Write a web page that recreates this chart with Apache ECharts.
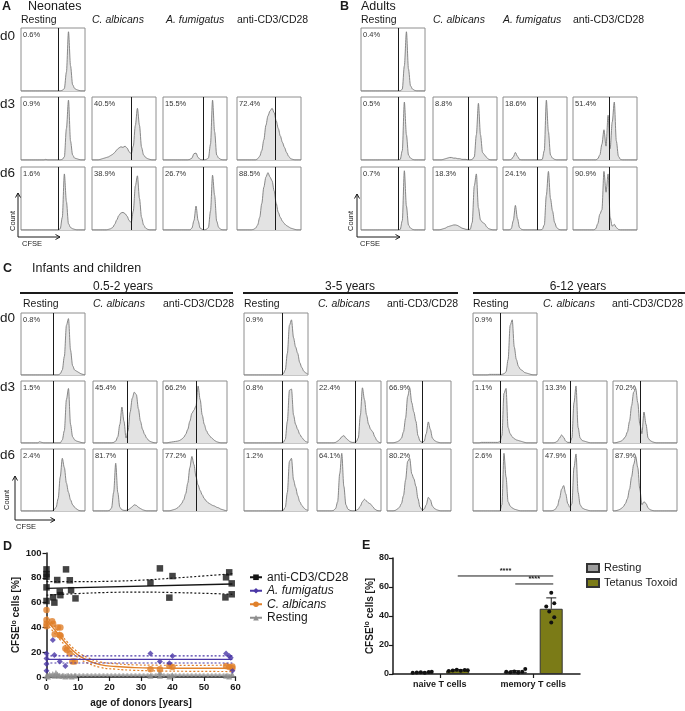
<!DOCTYPE html>
<html>
<head>
<meta charset="utf-8">
<script src="https://cdn.jsdelivr.net/npm/echarts@6/dist/echarts.min.js"></script>
<style>
html, body { margin: 0; padding: 0; background: #fff; }
#fig { width: 685px; height: 711px; }
</style>
</head>
<body>
<div id="fig"></div>
<script>
// ---- histogram data: 32 CFSE bins per sample, height in % of box ----
const N = 32;

// A: neonates (Resting, C. albicans, A. fumigatus, anti-CD3/CD28)
const neoD0 = [
  [0,0,0,0,0,0,0,0,0,0, 0,0,0,0,0,0,0,0,0,0, 1,4,30,94,40,10,4,2,1,0, 0,0]
];
const neoD3 = [
  [0,0,0,0,0,0,0,0,0,0, 0,0,1,0,0,0,0,0,0,0, 1,5,50,95,30,8,3,2,1,0, 0,0],
  [0,0,0,0,1,2,3,4,5,7, 9,12,16,19,21,20,22,19,13,10, 22,55,82,55,20,8,4,2,1,0, 0,0],
  [0,0,0,0,0,0,0,0,0,0, 0,0,0,1,3,10,11,4,1,0, 0,1,3,25,95,45,8,3,1,0, 0,0],
  [0,0,0,0,0,0,0,0,0,0, 2,6,15,32,55,70,78,82,75,62, 50,38,28,20,12,6,2,1,0,0, 0,0]
];
const neoD6 = [
  [0,0,0,0,0,0,0,0,0,0, 0,0,0,0,0,0,0,0,0,2, 20,89,45,10,4,2,1,0,0,0, 0,0],
  [0,0,0,0,0,0,0,0,1,2, 4,9,16,23,27,28,26,22,15,12, 30,70,86,50,20,8,3,1,0,0, 0,0],
  [0,0,0,0,0,0,0,0,0,0, 0,0,0,0,3,15,38,15,3,1, 0,1,4,30,87,55,14,4,1,0, 0,0],
  [0,0,0,0,0,0,0,0,1,3, 8,20,42,68,84,91,84,78,62,42, 28,20,14,10,7,5,3,2,1,0, 0,0]
];
const neoPct = [['0.6%'], ['0.9%','40.5%','15.5%','72.4%'], ['1.6%','38.9%','26.7%','88.5%']];
const neoGate = [0.58, 0.62, 0.63, 0.60];

// B: adults
const adD0 = [
  [0,0,0,0,0,0,0,0,0,0, 0,0,0,0,0,0,0,0,0,0, 3,40,94,35,8,3,1,0,0,0, 0,0]
];
const adD3 = [
  [0,0,0,0,0,0,0,0,0,0, 0,0,0,0,0,0,0,0,0,1, 15,92,40,8,3,1,0,0,0,0, 0,0],
  [0,0,0,0,0,1,2,3,4,4, 3,3,2,2,1,1,1,0,0,1, 5,40,90,40,12,8,4,1,0,0, 0,0],
  [0,0,0,0,1,5,12,6,1,0, 0,0,0,0,0,0,0,0,0,1, 15,95,45,8,3,1,0,0,0,0, 0,0],
  [0,0,0,0,0,0,0,0,0,0, 0,0,2,8,25,48,22,71,18,60, 92,30,6,1,0,0,0,0,0,0, 0,0]
];
const adD6 = [
  [0,0,0,0,0,0,0,0,0,0, 0,0,0,0,0,0,0,0,0,1, 15,94,38,8,3,1,0,0,0,0, 0,0],
  [0,0,0,0,1,2,3,5,6,7, 8,8,7,5,3,2,1,1,1,12, 70,89,35,16,12,10,5,2,1,0, 0,0],
  [0,0,0,0,2,15,39,18,4,1, 0,0,0,0,0,0,0,0,0,1, 8,55,93,50,30,12,4,1,0,0, 0,0],
  [0,0,0,0,0,0,0,0,0,0, 0,2,10,25,32,93,60,89,20,6, 9,4,1,0,0,0,0,0,0,0, 0,0]
];
const adPct = [['0.4%'], ['0.5%','8.8%','18.6%','51.4%'], ['0.7%','18.3%','24.1%','90.9%']];
const adGate = [0.58, 0.55, 0.54, 0.57];

// C: infants and children (Resting, C. albicans, anti-CD3/CD28)
const c1D0 = [
  [0,0,0,0,0,0,0,0,0,0, 0,0,0,0,0,0,0,0,0,2, 8,30,80,91,40,15,8,6,4,2, 1,0]
];
const c1D3 = [
  [0,0,0,0,0,0,0,0,0,2, 1,0,0,0,0,0,0,0,0,0, 5,20,70,88,30,10,5,3,2,1, 0,0],
  [0,0,0,0,0,0,0,0,0,0, 1,3,10,30,58,35,8,20,50,72, 82,78,55,35,22,14,8,4,2,1, 0,0],
  [0,0,0,1,1.5,2,2.5,3,4,6, 9,14,22,35,48,53,60,92,70,45, 30,20,14,10,7,4,2,1,0,0, 0,0]
];
const c1D6 = [
  [0,0,0,0,0,0,0,0,0,0, 0,0,0,0,0,0,2,6,20,55, 85,70,45,30,18,10,6,3,1,0, 0,0],
  [0,0,0,0,0,0,0,0,1,5, 30,77,30,6,2,1,1,2,4,7, 10,9,6,4,2,1,0,0,0,0, 0,0],
  [0,0,0,0,1,2,3,5,8,12, 18,28,45,70,88,75,55,42,33,26, 20,16,13,11,9,8,6,5,3,2, 1,0]
];
const c1Pct = [['0.8%'], ['1.5%','45.4%','66.2%'], ['2.4%','81.7%','77.2%']];
const c1Gate = [0.50, 0.53, 0.52];

const c2D0 = [
  [0,0,0,0,0,0,0,0,0,0, 0,0,0,0,0,0,0,0,0,2, 8,35,80,89,60,45,35,20,12,6, 3,1]
];
const c2D3 = [
  [0,0,0,0,0,0,0,0,0,0, 0,0,0,0,0,0,0,0,0,1, 6,35,85,87,45,30,22,14,9,5, 2,1],
  [0,0,0,0,0,0,0,0,0,1, 3,6,10,12,8,5,2,1,1,2, 8,45,89,70,45,30,22,18,10,4, 1,0],
  [0,0,0,0,1,2,4,8,18,40, 75,89,65,50,35,12,3,1,3,15, 34,22,8,4,2,1,0,0,0,0, 0,0]
];
const c2D6 = [
  [0,0,0,0,0,0,0,0,0,0, 0,0,0,0,0,0,0,0,0,1, 6,30,80,85,50,38,25,15,9,5, 2,1],
  [0,0,0,0,0,0,0,0,1,4, 15,60,93,40,10,3,1,0,0,1, 3,8,15,19,16,13,11,7,3,1, 0,0],
  [0,0,0,0,1,3,6,12,25,50, 80,85,60,52,40,20,6,2,3,10, 22,18,8,4,2,1,0,0,0,0, 0,0]
];
const c2Pct = [['0.9%'], ['0.8%','22.4%','66.9%'], ['1.2%','64.1%','80.2%']];
const c2Gate = [0.59, 0.59, 0.55];

const c3D0 = [
  [0,0,0,0,0,0,0,0,1,1, 1,1,1,1,1,2,5,25,80,89, 45,25,14,9,7,4,3,2,1,0, 0,0]
];
const c3D3 = [
  [0,0,0,0,1,1,1,1,1,1, 1,1,1,2,12,80,88,25,15,10, 7,5,4,3,2,1,0,0,0,0, 0,0],
  [0,0,0,0,0,0,1,3,8,13, 9,3,1,1,8,65,92,25,8,4, 3,2,1,0,0,0,0,0,0,0, 0,0],
  [0,0,1,2,3,6,10,18,35,60, 82,88,65,30,15,50,30,8,4,2, 1,0,0,0,0,0,0,0,0,0, 0,0]
];
const c3D6 = [
  [0,0,0,0,0,0,0,0,0,0, 0,0,0,0,10,93,55,15,8,5, 3,2,1,0,0,0,0,0,0,0, 0,0],
  [0,0,0,0,0,1,3,8,20,35, 41,28,12,6,12,70,92,30,10,5, 3,2,1,0,0,0,0,0,0,0, 0,0],
  [0,0,1,2,4,7,12,20,35,55, 75,88,70,35,10,15,12,5,2,1, 0,0,0,0,0,0,0,0,0,0, 0,0]
];
const c3Pct = [['0.9%'], ['1.1%','13.3%','70.2%'], ['2.6%','47.9%','87.9%']];
const c3Gate = [0.43, 0.43, 0.43];

// ---- D: CFSElo cells vs. age ----
const cd3Pts = [[0,86.8],[0,83],[0,80.9],[0,72.3],[0,61.3],[2.1,64.3],[2.5,60],[3.4,78.2],[4.2,68.8],[4.4,66],[6.2,86.8],[7.4,78],[7.8,70],[9.2,63.4],[33,76],[36,87.6],[39,64],[40,81.4],[56.8,64.2],[57,80.4],[58,84.4],[58.8,75.5],[58.8,66.7]];
const fumPts = [[0,19],[0,15],[0,10.5],[0,5],[2,29.8],[2.5,17.7],[4.2,12.4],[6,8.9],[33,19],[36,12.4],[39,11],[40,17],[57,19],[58,17],[58.5,15.5],[59,5]];
const albPts = [[0,54],[0,46],[0,43],[0,41],[1.8,45],[2.1,43],[2.6,34.4],[3.6,40],[4.4,40],[4.2,33.9],[4.5,33],[6,23],[6.5,21.8],[7.4,19],[8.2,12.4],[9,12.6],[33,6.2],[36,6.2],[39,8.9],[40,8],[57,8.9],[58,8],[59,8.5],[59,7]];
const restPts = [[0,1],[0.5,0.5],[1,2],[2,2.5],[2.5,1],[3,3.5],[3.5,2],[4,1],[5,1],[6,0.5],[7,1],[8,0.5],[9,1],[33,1],[36,4],[36,1],[39,0.5],[40,1.5],[57,1],[58,0.5],[59,2]];

const cd3Fit = [[0,71.5],[59,75]];
const cd3Upper = [[0,77],[10,76.9],[20,77.2],[30,78.1],[40,79.7],[50,81.5],[59,83.3]];
const cd3Lower = [[0,66],[10,67.3],[20,68.2],[30,68.5],[40,68.1],[50,67.5],[59,66.7]];
const fumFit = [[0,14.2],[59,14.2]];
const fumUpper = [[0,17],[59,17]];
const fumLower = [[0,11.3],[59,11.3]];
const albFit = [[0,46],[2.3,39],[4.5,32],[6.6,26],[8.5,21],[10.8,16.5],[13,13.5],[17,10],[22,8.5],[28,7.6],[35,7.2],[45,7],[59,7]];
const albUpper = [[0,49],[2.3,41.8],[4.5,34.5],[6.6,28.3],[8.5,23.2],[10.8,18.7],[13,15.7],[17,12.2],[22,10.7],[28,9.8],[35,9.5],[45,9.4],[59,9.6]];
const albLower = [[0,43],[2.3,36.2],[4.5,29.5],[6.6,23.7],[8.5,18.8],[10.8,14.3],[13,11.3],[17,7.8],[22,6.3],[28,5.4],[35,4.9],[45,4.6],[59,4.4]];
const restFit = [[0,1.5],[59,1.5]];
const restUpper = [[0,2.4],[59,2.4]];
const restLower = [[0,0.7],[59,0.7]];

// ---- E: naive vs memory T cells ----
const cellTypes = ['naive T cells', 'memory T cells'];
const restMean = [1.0, 1.5];
const ttMean = [2.5, 45];
const restSd = [0.3, 0.8];
const ttSd = [0.5, 7.5];
const restDots = [[0.8,1.0,1.2,0.9,1.3,1.5], [1.5,1.2,1.8,1.0,1.6,3.4]];
const ttDots = [[2.0,2.5,3.0,2.2,2.8,2.6], [56,48.8,46.5,43.1,39.2,35.5]];
const sigBars = [[0, 1, 1, 1, 67.6], [1, 0, 1, 1, 62.1]]; // from cat/group to cat/group, height

// ---- layout ----
const FONT = 'Liberation Sans, Arial, sans-serif';
const INK = '#1a1a1a';
const BOX_W = 64;

const chart = echarts.init(document.getElementById('fig'), null, { width: 685, height: 711 });
const grids = [], xAxes = [], yAxes = [], series = [], gfx = [];

function txt(x, y, s, size, o = {}) {
  const align = o.align || 'left', va = o.va || 'middle';
  return {
    type: 'text', x, y, rotation: o.rot || 0, silent: true,
    style: {
      text: s, fontSize: size, fontFamily: FONT,
      fontWeight: o.bold ? 'bold' : 'normal', fontStyle: o.italic ? 'italic' : 'normal',
      fill: o.color || INK, align, verticalAlign: va, textAlign: align, textVerticalAlign: va
    }
  };
}
function seg(x1, y1, x2, y2, w) {
  return { type: 'line', silent: true, shape: { x1, y1, x2, y2 }, style: { stroke: INK, lineWidth: w || 1 } };
}
function poly(pts, w) {
  return { type: 'polyline', silent: true, shape: { points: pts }, style: { stroke: INK, fill: null, lineWidth: w || 1 } };
}

function addHist(left, top, h, bins, gate) {
  const gi = grids.length;
  grids.push({ left, top, width: BOX_W, height: h, show: true, borderColor: '#8e8e8e', borderWidth: 1, backgroundColor: '#fff' });
  xAxes.push({ gridIndex: gi, type: 'value', min: 0, max: N - 1, show: false });
  yAxes.push({ gridIndex: gi, type: 'value', min: 0, max: 100, show: false });
  series.push({
    type: 'line', xAxisIndex: gi, yAxisIndex: gi, silent: true,
    data: bins.map((v, i) => [i, v]),
    symbol: 'none', smooth: 0.3, smoothMonotone: 'x',
    lineStyle: { color: '#7a7a7a', width: 0.9 },
    areaStyle: { color: '#e3e3e3', opacity: 1 },
    markLine: {
      silent: true, symbol: ['none', 'none'], label: { show: false },
      lineStyle: { color: INK, width: 1, type: 'solid' },
      data: [{ xAxis: gate * (N - 1) }]
    }
  });
}

function drawPanel(cols, rows, h, hist, pct, gates) {
  hist.forEach((row, r) => row.forEach((bins, c) => {
    addHist(cols[c], rows[r], h, bins, gates[c]);
    gfx.push(txt(cols[c] + 2, rows[r] + 2.5, pct[r][c], 7.5, { va: 'top', color: '#333' }));
  }));
}

// A
const aCols = [21, 92, 163, 237], abRows = [28, 97, 167];
drawPanel(aCols, abRows, 63, [neoD0, neoD3, neoD6], neoPct, neoGate);
// B
const bCols = [361, 433, 503, 573];
drawPanel(bCols, abRows, 63, [adD0, adD3, adD6], adPct, adGate);
// C
const cRows = [313, 381, 449];
drawPanel([21, 93, 163], cRows, 62, [c1D0, c1D3, c1D6], c1Pct, c1Gate);
drawPanel([244, 317, 387], cRows, 62, [c2D0, c2D3, c2D6], c2Pct, c2Gate);
drawPanel([473, 543, 613], cRows, 62, [c3D0, c3D3, c3D6], c3Pct, c3Gate);

// titles and headers
gfx.push(txt(2, 7, 'A', 12.5, { bold: true }), txt(28, 7, 'Neonates', 12.5));
gfx.push(txt(340, 7, 'B', 12.5, { bold: true }), txt(361, 7, 'Adults', 12.5));
gfx.push(txt(3, 269, 'C', 12.5, { bold: true }), txt(32, 269, 'Infants and children', 12.5));
const condNames4 = ['Resting', 'C. albicans', 'A. fumigatus', 'anti-CD3/CD28'];
const condItalic = [false, true, true, false];
[[21, 92, 166, 237], [361, 433, 503, 573]].forEach(xs => xs.forEach((x, i) =>
  gfx.push(txt(x, 20.5, condNames4[i], 10.5, { italic: condItalic[i] }))));
const condNames3 = ['Resting', 'C. albicans', 'anti-CD3/CD28'];
[[23, 93, 163], [244, 318, 387], [473, 543, 612]].forEach(xs => xs.forEach((x, i) =>
  gfx.push(txt(x, 304, condNames3[i], 10.5, { italic: i === 1 }))));
[['0.5-2 years', 123, 20, 233], ['3-5 years', 350, 243, 458], ['6-12 years', 578, 473, 685]].forEach(g => {
  gfx.push(txt(g[1], 287, g[0], 12, { align: 'center' }), seg(g[2], 293, g[3], 293, 2));
});
['d0', 'd3', 'd6'].forEach((d, i) => {
  gfx.push(txt(0, [36, 104, 173][i], d, 13.5));
  gfx.push(txt(0, [318, 387, 455][i], d, 13.5));
});
// Count / CFSE arrows
function countArrow(x, yTop, yBot, xEnd, countX, countY, cfseX, cfseY) {
  gfx.push(poly([[x, yTop], [x, yBot], [xEnd, yBot]], 1));
  gfx.push(poly([[x - 2.5, yTop + 4.5], [x, yTop], [x + 2.5, yTop + 4.5]], 1));
  gfx.push(poly([[xEnd - 4.5, yBot - 2.5], [xEnd, yBot], [xEnd - 4.5, yBot + 2.5]], 1));
  gfx.push(txt(countX, countY, 'Count', 7.5, { rot: Math.PI / 2, align: 'center' }));
  gfx.push(txt(cfseX, cfseY, 'CFSE', 7.5));
}
countArrow(18, 193, 237, 60, 12.5, 221, 22, 243.5);
countArrow(357, 194, 237, 400, 351, 221, 360, 243.5);
countArrow(15, 476, 520, 55, 7, 500, 16, 527);

// D and E labels
gfx.push(txt(3, 547, 'D', 12.5, { bold: true }), txt(362, 546, 'E', 12.5, { bold: true }));

// ---- D chart ----
const gD = grids.length;
grids.push({ left: 46.5, top: 553, width: 189, height: 124 });
const axisBase = {
  axisLine: { show: true, onZero: false, lineStyle: { color: INK, width: 1.5 } },
  axisTick: { show: true, length: 4, lineStyle: { color: INK, width: 1.2 } },
  axisLabel: { fontSize: 9.5, fontWeight: 'bold', color: INK, margin: 5, fontFamily: FONT },
  splitLine: { show: false }
};
const loName = '{b|CFSE}{s|lo}{b| cells [%]}';
const loRich = {
  b: { fontSize: 10, fontWeight: 'bold', color: INK, lineHeight: 13, fontFamily: FONT },
  s: { fontSize: 7, fontWeight: 'bold', color: INK, lineHeight: 8, verticalAlign: 'top', fontFamily: FONT }
};
xAxes.push(Object.assign({
  gridIndex: gD, type: 'value', min: 0, max: 60, interval: 10,
  name: 'age of donors [years]', nameLocation: 'middle', nameGap: 21,
  nameTextStyle: { fontSize: 10, fontWeight: 'bold', color: INK, fontFamily: FONT }
}, axisBase));
yAxes.push(Object.assign({
  gridIndex: gD, type: 'value', min: 0, max: 100, interval: 20,
  name: loName, nameLocation: 'middle', nameGap: 22, nameRotate: 90,
  nameTextStyle: { rich: loRich }
}, axisBase));

const groupsD = [
  { name: 'anti-CD3/CD28', color: '#151515', symbol: 'rect', size: 6.5, pts: cd3Pts, fit: cd3Fit, up: cd3Upper, lo: cd3Lower },
  { name: 'A. fumigatus', color: '#4a37a6', symbol: 'diamond', size: 6, pts: fumPts, fit: fumFit, up: fumUpper, lo: fumLower },
  { name: 'C. albicans', color: '#e0802a', symbol: 'circle', size: 6.5, pts: albPts, fit: albFit, up: albUpper, lo: albLower },
  { name: 'Resting', color: '#8e8e8e', symbol: 'triangle', size: 6, pts: restPts, fit: restFit, up: restUpper, lo: restLower }
];
groupsD.slice().reverse().forEach(g => {
  [g.up, g.lo].forEach(band => series.push({
    type: 'line', xAxisIndex: gD, yAxisIndex: gD, data: band, symbol: 'none', smooth: true, silent: true,
    lineStyle: { color: g.color, width: 1.2, type: [2, 2] }
  }));
  series.push({
    type: 'line', name: g.name, xAxisIndex: gD, yAxisIndex: gD, data: g.fit, smooth: true, silent: true,
    symbol: g.symbol, showSymbol: false, itemStyle: { color: g.color },
    lineStyle: { color: g.color, width: 1.4 }
  });
  series.push({
    type: 'scatter', xAxisIndex: gD, yAxisIndex: gD, data: g.pts, silent: true,
    symbol: g.symbol, symbolSize: g.size, itemStyle: { color: g.color }
  });
});

// ---- E chart ----
const gE = grids.length;
grids.push({ left: 393, top: 558, width: 187, height: 116 });
xAxes.push(Object.assign({}, axisBase, {
  gridIndex: gE, type: 'category', data: cellTypes,
  axisTick: { show: true, alignWithLabel: true, length: 4, lineStyle: { color: INK, width: 1.2 } },
  axisLabel: { fontSize: 9, fontWeight: 'bold', color: INK, margin: 6, fontFamily: FONT }
}));
yAxes.push(Object.assign({}, axisBase, {
  gridIndex: gE, type: 'value', min: 0, max: 80, interval: 20,
  axisLabel: { fontSize: 9, fontWeight: 'bold', color: INK, margin: 4, fontFamily: FONT },
  name: loName, nameLocation: 'middle', nameGap: 16, nameRotate: 90,
  nameTextStyle: { rich: loRich }
}));
const BAR_W = 23, BAR_OFF = 18;
series.push({
  type: 'bar', name: 'Resting ', xAxisIndex: gE, yAxisIndex: gE, data: restMean, silent: true,
  barWidth: BAR_W, barGap: '56%',
  itemStyle: { color: '#9d9d9d', borderColor: '#333', borderWidth: 1 }
});
series.push({
  type: 'bar', name: 'Tetanus Toxoid', xAxisIndex: gE, yAxisIndex: gE, data: ttMean, silent: true,
  barWidth: BAR_W,
  itemStyle: { color: '#7b7b17', borderColor: '#333', borderWidth: 1 }
});
// error bars (mean, sd) per cell type and group
const errData = [];
[restMean, ttMean].forEach((m, grp) => m.forEach((v, cat) => errData.push([cat, grp, v, [restSd, ttSd][grp][cat]])));
series.push({
  type: 'custom', xAxisIndex: gE, yAxisIndex: gE, silent: true, data: errData, z: 3,
  renderItem(params, api) {
    const base = api.coord([api.value(0), api.value(2)]);
    const top = api.coord([api.value(0), api.value(2) + api.value(3)]);
    const x = base[0] + (api.value(1) ? BAR_OFF : -BAR_OFF);
    return { type: 'group', children: [
      { type: 'line', shape: { x1: x, y1: base[1], x2: x, y2: top[1] }, style: { stroke: INK, lineWidth: 1 } },
      { type: 'line', shape: { x1: x - 5, y1: top[1], x2: x + 5, y2: top[1] }, style: { stroke: INK, lineWidth: 1 } }
    ] };
  }
});
// individual donors
const dotData = [];
[restDots, ttDots].forEach((byCat, grp) => byCat.forEach((vals, cat) =>
  vals.forEach((v, k) => dotData.push([cat, grp, v, k, grp === 1 && cat === 1 ? 1 : 0]))));
const jitterWide = [-9, -5, -1, 3, 7, 10], jitterTight = [0, 3, -5, -2, 3, 0];
series.push({
  type: 'custom', xAxisIndex: gE, yAxisIndex: gE, silent: true, data: dotData, z: 4,
  renderItem(params, api) {
    const p = api.coord([api.value(0), api.value(2)]);
    const j = (api.value(4) ? jitterTight : jitterWide)[api.value(3)];
    const x = p[0] + (api.value(1) ? BAR_OFF : -BAR_OFF) + j;
    return { type: 'circle', shape: { cx: x, cy: p[1], r: 2 }, style: { fill: '#111' } };
  }
});
// significance brackets
series.push({
  type: 'custom', xAxisIndex: gE, yAxisIndex: gE, silent: true, data: sigBars, z: 4,
  renderItem(params, api) {
    const a = api.coord([api.value(0), api.value(4)]);
    const b = api.coord([api.value(2), api.value(4)]);
    const x1 = a[0] + (api.value(1) ? BAR_OFF : -BAR_OFF);
    const x2 = b[0] + (api.value(3) ? BAR_OFF : -BAR_OFF) + 2;
    return { type: 'group', children: [
      { type: 'line', shape: { x1, y1: a[1], x2, y2: a[1] }, style: { stroke: INK, lineWidth: 1 } },
      { type: 'text', x: (x1 + x2) / 2, y: a[1] - 1,
        style: { text: '****', fontSize: 7.5, fontWeight: 'bold', fill: INK, fontFamily: FONT,
          align: 'center', verticalAlign: 'bottom', textAlign: 'center', textVerticalAlign: 'bottom' } }
    ] };
  }
});

const italicNames = ['A. fumigatus', 'C. albicans'];
chart.setOption({
  animation: false,
  textStyle: { fontFamily: FONT },
  grid: grids,
  xAxis: xAxes,
  yAxis: yAxes,
  series: series,
  legend: [
    {
      left: 244, top: 566, orient: 'vertical', selectedMode: false, padding: [5, 5, 5, 5],
      itemWidth: 12, itemHeight: 7, itemGap: 1,
      data: groupsD.map(g => g.name),
      formatter: name => italicNames.includes(name) ? '{i|' + name + '}' : name,
      textStyle: { fontSize: 12, color: INK, lineHeight: 12.5, fontFamily: FONT,
        rich: { i: { fontSize: 12, fontStyle: 'italic', color: INK, lineHeight: 12.5, fontFamily: FONT } } }
    },
    {
      left: 581, top: 557, orient: 'vertical', selectedMode: false,
      itemWidth: 12, itemHeight: 8, itemGap: 3, icon: 'rect',
      data: ['Resting ', 'Tetanus Toxoid'],
      formatter: name => name.trim(),
      textStyle: { fontSize: 11, color: INK, lineHeight: 12, fontFamily: FONT }
    }
  ],
  graphic: { elements: gfx }
});
</script>
</body>
</html>
